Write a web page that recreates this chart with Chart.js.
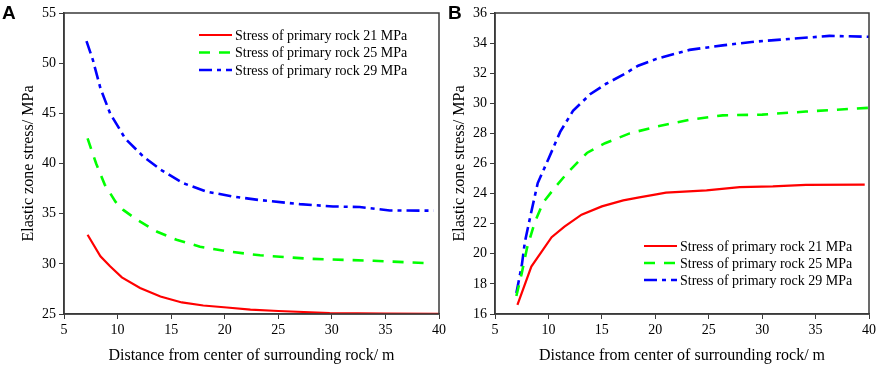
<!DOCTYPE html>
<html>
<head>
<meta charset="utf-8">
<script src="https://cdn.jsdelivr.net/npm/chart.js@4.4.1/dist/chart.umd.min.js"></script>
<style>
  body { margin: 0; background: #fff; width: 879px; height: 366px; overflow: hidden; position: relative; }
  canvas { position: absolute; top: 0; }
  #chartA { left: 0; }
  #chartB { left: 440px; }
</style>
</head>
<body>
<canvas id="chartA" width="460" height="366"></canvas>
<canvas id="chartB" width="439" height="366"></canvas>
<script>
// Series names
const seriesLabels = [
  'Stress of primary rock 21 MPa',
  'Stress of primary rock 25 MPa',
  'Stress of primary rock 29 MPa'
];

// Panel A - elastic zone stress, decreasing
const aX21 = [7.2, 8.4, 9.3, 10.4, 12.1, 14.0, 16.0, 18.0, 20.2, 22.4, 25.0, 29.8, 35.0, 40.0];
const aY21 = [32.9, 30.75, 29.75, 28.65, 27.6, 26.75, 26.15, 25.85, 25.65, 25.43, 25.3, 25.1, 25.05, 25.02];
const aX25 = [7.2, 8.0, 8.8, 9.8, 10.5, 11.8, 13.7, 15.5, 17.7, 20.2, 23.3, 28.0, 33.9, 39.2];
const aY25 = [42.5, 40.0, 37.9, 36.2, 35.4, 34.4, 33.2, 32.4, 31.7, 31.25, 30.85, 30.5, 30.3, 30.05];
const aX29 = [7.1, 7.7, 8.4, 9.3, 10.2, 10.7, 12.4, 14.0, 16.1, 18.3, 20.8, 23.3, 27.0, 30.1, 32.6, 35.4, 39.5];
const aY29 = [52.2, 50.3, 47.5, 45.0, 43.4, 42.5, 40.7, 39.4, 38.05, 37.2, 36.7, 36.35, 35.95, 35.72, 35.66, 35.32, 35.3];

// Panel B - elastic zone stress, increasing
const bX21 = [7.1, 8.4, 10.3, 11.5, 13.1, 15.0, 17.0, 18.5, 20.1, 21.0, 24.8, 27.9, 31.0, 34.1, 39.6];
const bY21 = [16.6, 19.15, 21.1, 21.8, 22.6, 23.15, 23.55, 23.75, 23.95, 24.06, 24.22, 24.43, 24.48, 24.58, 24.6];
const bX25 = [7.0, 7.5, 8.0, 8.7, 9.5, 10.6, 11.8, 13.6, 15.3, 17.6, 20.1, 23.2, 26.3, 30.0, 34.1, 40.0];
const bY25 = [17.2, 18.7, 20.4, 22.05, 23.4, 24.4, 25.4, 26.7, 27.35, 28.0, 28.45, 28.9, 29.2, 29.25, 29.45, 29.7];
const bX29 = [7.0, 7.5, 7.8, 8.4, 9.0, 10.0, 11.1, 12.3, 13.9, 15.4, 17.0, 18.4, 20.1, 23.2, 26.3, 29.4, 32.5, 36.3, 40.0];
const bY29 = [17.4, 19.2, 20.8, 22.8, 24.7, 26.3, 28.1, 29.5, 30.6, 31.3, 31.9, 32.5, 32.95, 33.55, 33.85, 34.1, 34.27, 34.48, 34.42];

// Axis ranges / ticks
const xRange = [5, 40, 5];
const aYRange = [25, 55, 5];
const bYRange = [16, 36, 2];

const xTitle = 'Distance from center of surrounding rock/ m';
const yTitle = 'Elastic zone stress/ MPa';

const serif = '"Liberation Serif", "Times New Roman", serif';
const frameColor = '#3a3a3a';
Chart.defaults.font.family = serif;
Chart.defaults.color = '#000';

const toPoints = (xs, ys) => xs.map((x, i) => ({ x: x, y: ys[i] }));

const styles = [
  { borderColor: '#ff0000', borderWidth: 2.2, borderDash: [] },
  { borderColor: '#00ff00', borderWidth: 2.6, borderDash: [11, 9] },
  { borderColor: '#0000ff', borderWidth: 2.6, borderDash: [13, 5, 4, 5] }
];

const makeDatasets = (pairs) => pairs.map((p, i) => ({
  label: seriesLabels[i],
  data: toPoints(p[0], p[1]),
  borderColor: styles[i].borderColor,
  borderWidth: styles[i].borderWidth,
  borderDash: styles[i].borderDash,
  pointRadius: 0,
  fill: false,
  tension: 0
}));

// box around the plot + legend inside the plot + panel letter
const framePlugin = {
  id: 'frame',
  afterDraw(chart, args, opts) {
    const { ctx, chartArea: a } = chart;
    ctx.save();
    ctx.strokeStyle = frameColor;
    ctx.lineWidth = 1.5;
    ctx.strokeRect(a.left, a.top, a.right - a.left, a.bottom - a.top);

    // legend
    ctx.font = '14px ' + serif;
    ctx.textBaseline = 'middle';
    ctx.fillStyle = '#000';
    chart.data.datasets.forEach((ds, i) => {
      const y = opts.legendY + i * opts.legendRow;
      ctx.beginPath();
      ctx.strokeStyle = ds.borderColor;
      ctx.lineWidth = ds.borderWidth;
      ctx.setLineDash(ds.borderDash);
      ctx.moveTo(opts.legendX, y);
      ctx.lineTo(opts.legendX + 33, y);
      ctx.stroke();
      ctx.setLineDash([]);
      ctx.fillText(ds.label, opts.legendX + 36, y + 1);
    });

    // panel letter
    ctx.font = 'bold 19px "Liberation Sans", Arial, sans-serif';
    ctx.textBaseline = 'alphabetic';
    ctx.fillText(opts.letter, opts.letterX, 18.5);
    ctx.restore();
  }
};

const makeChart = (id, datasets, yRange, yWidth, yTitlePad, padRight, frameOpts) => new Chart(document.getElementById(id), {
  type: 'line',
  data: { datasets: datasets },
  plugins: [framePlugin],
  options: {
    responsive: false,
    animation: false,
    layout: { padding: { top: 13, right: padRight, bottom: 0, left: 0 } },
    plugins: {
      legend: { display: false },
      tooltip: { enabled: false },
      frame: frameOpts
    },
    scales: {
      x: {
        type: 'linear',
        min: xRange[0], max: xRange[1],
        afterFit: (s) => { s.height = 52; },
        ticks: { stepSize: xRange[2], padding: 3, font: { size: 14 }, maxRotation: 0 },
        grid: { drawOnChartArea: false, drawTicks: true, tickLength: 5, color: frameColor, lineWidth: 1 },
        border: { display: true, color: frameColor, width: 1.5 },
        title: { display: true, text: xTitle, font: { size: 16 }, padding: { top: 0, bottom: 1 } }
      },
      y: {
        min: yRange[0], max: yRange[1],
        afterFit: (s) => { s.width = yWidth; },
        ticks: { stepSize: yRange[2], padding: 3, font: { size: 14 } },
        grid: { drawOnChartArea: false, drawTicks: true, tickLength: 5, color: frameColor, lineWidth: 1 },
        border: { display: true, color: frameColor, width: 1.5 },
        title: { display: true, text: yTitle, font: { size: 16 }, padding: { top: yTitlePad, bottom: 0 } }
      }
    }
  }
});

makeChart('chartA',
  makeDatasets([[aX21, aY21], [aX25, aY25], [aX29, aY29]]),
  aYRange, 64, 19, 21,
  { legendX: 199, legendY: 35, legendRow: 17.5, letter: 'A', letterX: 2 });

makeChart('chartB',
  makeDatasets([[bX21, bY21], [bX25, bY25], [bX29, bY29]]),
  bYRange, 55, 10, 9,
  { legendX: 204, legendY: 246, legendRow: 17, letter: 'B', letterX: 8 });
</script>
</body>
</html>
